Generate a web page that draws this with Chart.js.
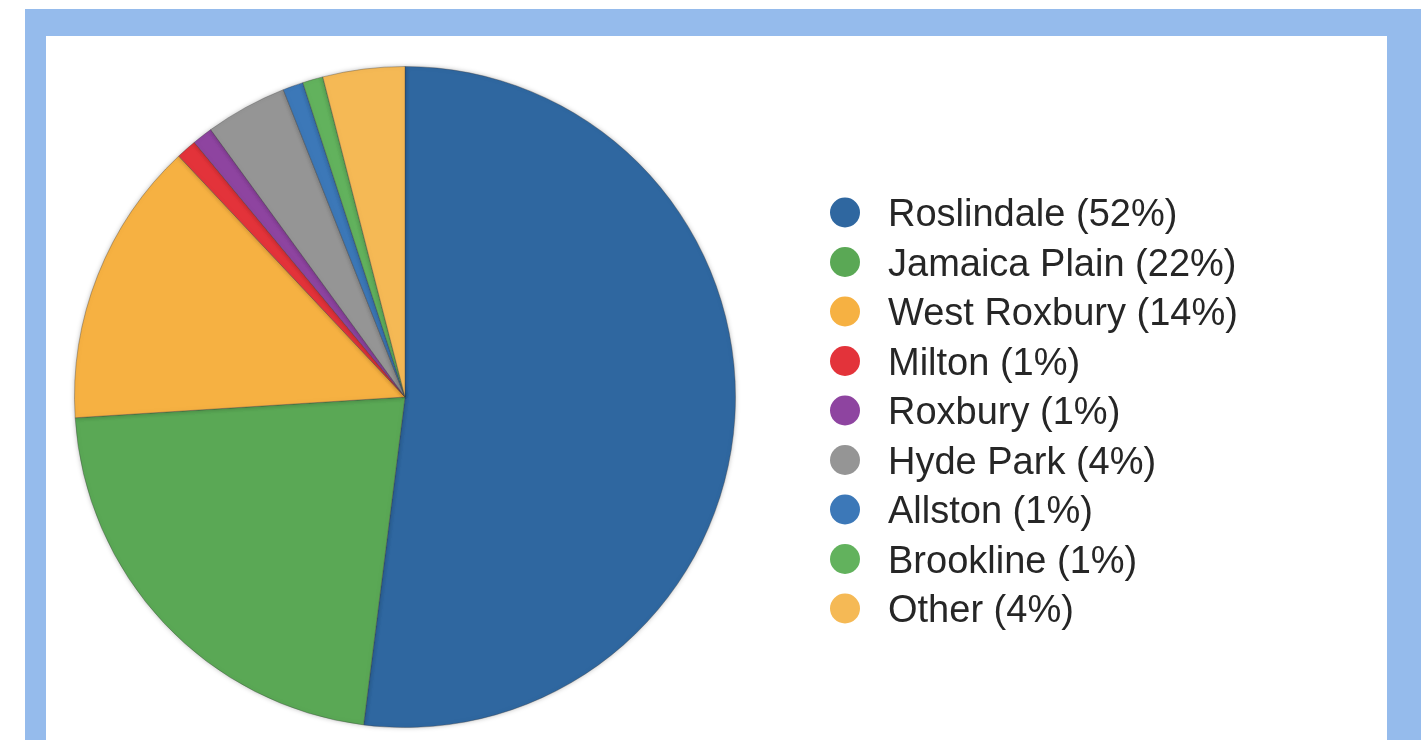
<!DOCTYPE html>
<html>
<head>
<meta charset="utf-8">
<script src="https://cdn.jsdelivr.net/npm/chart.js@4"></script>
<style>
    html, body { margin: 0; padding: 0; background: #fff; overflow: hidden; }
    #frame { position: absolute; left: 25px; top: 9px; width: 1396px; height: 760px; background: #95bbec; }
    #inner { position: absolute; left: 46px; top: 36px; width: 1341px; height: 720px; background: #fff; }
    #wrap { position: absolute; left: 46px; top: 36px; width: 1341px; height: 704px; }
</style>
</head>
<body>
<div id="frame"></div>
<div id="inner"></div>
<div id="wrap"><canvas id="pie"></canvas></div>
<script>
const neighborhoods = ['Roslindale', 'Jamaica Plain', 'West Roxbury', 'Milton', 'Roxbury', 'Hyde Park', 'Allston', 'Brookline', 'Other'];
const shares = [52, 22, 14, 1, 1, 4, 1, 1, 4];
const sliceColors = ['#2f67a0', '#5aa855', '#f6b142', '#e3333a', '#8e44a0', '#959595', '#3c78b8', '#62b25d', '#f5b955'];

// legend drawn next to the pie, one row per slice
const sideLegend = {
    id: 'sideLegend',
    afterDraw(chart, args, opts) {
        const ctx = chart.ctx;
        const ds = chart.data.datasets[0];
        ctx.save();
        ctx.font = `${opts.fontSize}px "Liberation Sans", Arial, sans-serif`;
        ctx.textBaseline = 'alphabetic';
        ctx.textAlign = 'left';
        chart.data.labels.forEach((label, i) => {
            const y = opts.top + i * opts.step;
            ctx.beginPath();
            ctx.arc(opts.dotX, y, opts.dotR, 0, Math.PI * 2);
            ctx.fillStyle = ds.backgroundColor[i];
            ctx.fill();
            ctx.fillStyle = '#262626';
            ctx.fillText(`${label} (${ds.data[i]}%)`, opts.textX, y + opts.fontSize * 0.36);
        });
        ctx.restore();
    }
};

// soft edge around the pie like the original
const pieShadow = {
    id: 'pieShadow',
    beforeDatasetsDraw(chart) {
        const ctx = chart.ctx;
        ctx.save();
        ctx.shadowColor = 'rgba(0,0,0,0.25)';
        ctx.shadowBlur = 5;
    },
    afterDatasetsDraw(chart) {
        chart.ctx.restore();
    }
};

new Chart(document.getElementById('pie'), {
    type: 'pie',
    data: {
        labels: neighborhoods,
        datasets: [{
            data: shares,
            backgroundColor: sliceColors,
            borderColor: 'rgba(60,60,60,0.35)',
            borderWidth: 1
        }]
    },
    options: {
        responsive: true,
        maintainAspectRatio: false,
        animation: false,
        layout: { padding: { left: 28, top: 30, right: 651, bottom: 12 } },
        plugins: {
            legend: { display: false },
            tooltip: { enabled: false },
            sideLegend: { dotX: 799, dotR: 15, textX: 842, top: 176.5, step: 49.5, fontSize: 38 }
        }
    },
    plugins: [pieShadow, sideLegend]
});
</script>
</body>
</html>
